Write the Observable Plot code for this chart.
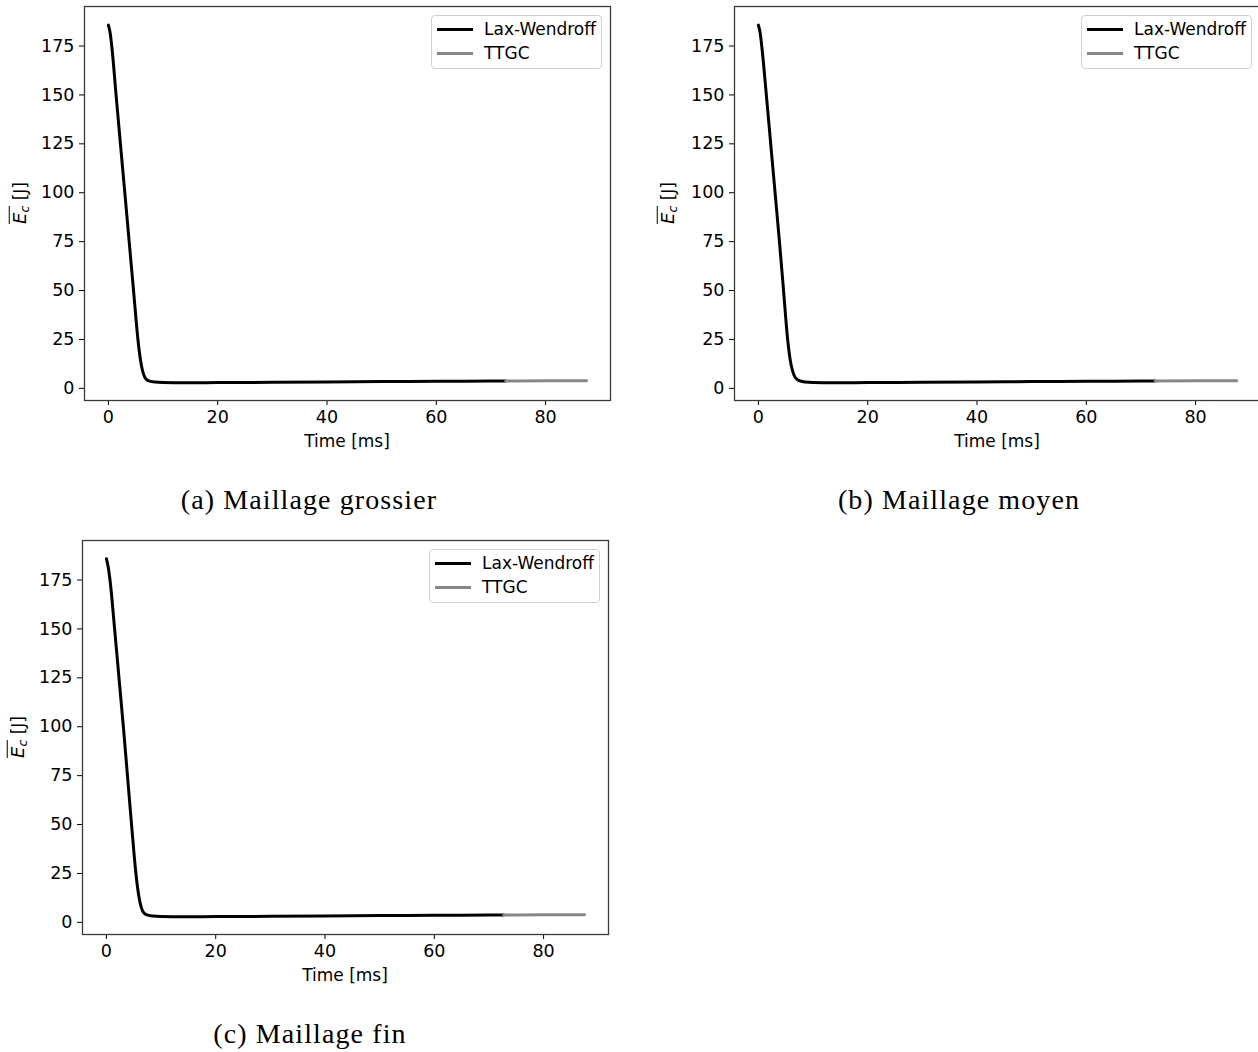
<!DOCTYPE html>
<html>
<head>
<meta charset="utf-8">
<script src="https://cdn.jsdelivr.net/npm/d3@7"></script>
<script src="https://cdn.jsdelivr.net/npm/@observablehq/plot@0.6"></script>
<style>
  html, body { margin: 0; padding: 0; background: #fff; }
  #page { position: relative; width: 1258px; height: 1052px; overflow: hidden; background: #fff; font-family: "DejaVu Sans", sans-serif; }
  .panel { position: absolute; width: 640px; height: 470px; }
  .panel svg { max-width: none !important; display: block; }
  .lbl { position: absolute; white-space: nowrap; line-height: 1; font-size: 17px; color: #000; transform: translate(-50%, -50%); }
  .ylbl { transform: translate(-50%, -50%) rotate(-90deg); }
  .ovl { display: inline-block; border-top: 1.7px solid #000; padding-top: 1px; line-height: 1; }
  .ovl i { font-style: oblique; font-size: 18px; }
  .ovl sub { font-size: 12.5px; font-style: oblique; vertical-align: -3px; }
  .cap { position: absolute; white-space: nowrap; line-height: 1; font-family: "Liberation Serif", "DejaVu Serif", serif; font-size: 28px; letter-spacing: 1.1px; transform: translate(-50%, -50%); color: #000; }
  .legend { position: absolute; width: 171px; height: 54px; box-sizing: border-box; border: 1px solid #d0d0d0; border-radius: 4px; background: rgba(255,255,255,0.85); }
  .legend .sw { position: absolute; left: 5px; width: 36px; height: 0; border-top: 3px solid #000; }
  .legend .tx { position: absolute; left: 52px; font-size: 17px; line-height: 1; transform: translateY(-50%); white-space: nowrap; }
</style>
</head>
<body>
<div id="page"></div>
<script>
// ---------- data ----------
const seriesNames = ["Lax-Wendroff", "TTGC"];
const seriesColors = ["#000000", "#878787"];
const captions = ["(a) Maillage grossier", "(b) Maillage moyen", "(c) Maillage fin"];
const xTicks = [0, 20, 40, 60, 80];
const yTicks = [0, 25, 50, 75, 100, 125, 150, 175];
const xLabel = "Time [ms]";

// Panel (a) - Maillage grossier
const lwTimeA   = [0, 0.3, 0.65, 1.4, 2.2, 3.0, 3.8, 4.6, 5.4, 5.9, 6.25, 6.6, 7.0, 7.6, 8.5, 10, 12, 15, 20, 30, 40, 50, 60, 70, 72.7];
const lwEnergyA = [185.7, 182, 174, 150, 125, 100, 75, 50, 25, 14, 9, 6, 4.5, 3.7, 3.2, 2.95, 2.9, 2.9, 2.95, 3.1, 3.3, 3.45, 3.6, 3.75, 3.8];
const ttgcTimeA   = [72.7, 80, 87.5];
const ttgcEnergyA = [3.8, 3.85, 3.9];

// Panel (b) - Maillage moyen
const lwTimeB   = [0, 0.3, 0.65, 1.45, 2.25, 3.05, 3.85, 4.6, 5.35, 5.85, 6.2, 6.6, 7.0, 7.6, 8.6, 10, 12, 15, 20, 30, 40, 50, 60, 70, 72.6];
const lwEnergyB = [185.7, 182, 174, 150, 125, 100, 75, 50, 25, 14, 9.5, 6.3, 4.8, 3.8, 3.2, 2.95, 2.9, 2.9, 2.95, 3.1, 3.3, 3.45, 3.6, 3.75, 3.8];
const ttgcTimeB   = [72.6, 80, 87.5];
const ttgcEnergyB = [3.8, 3.85, 3.9];

// Panel (c) - Maillage fin
const lwTimeC   = [0, 0.3, 0.7, 1.5, 2.3, 3.1, 3.85, 4.6, 5.4, 5.9, 6.25, 6.6, 7.0, 7.6, 8.5, 10, 12, 15, 20, 30, 40, 50, 60, 70, 72.7];
const lwEnergyC = [185.9, 182, 174, 150, 125, 100, 75, 50, 25, 14, 9, 6, 4.5, 3.7, 3.2, 2.95, 2.9, 2.9, 2.95, 3.1, 3.3, 3.45, 3.6, 3.75, 3.8];
const ttgcTimeC   = [72.7, 80, 87.5];
const ttgcEnergyC = [3.8, 3.85, 3.9];

// ---------- layout ----------
const panels = [
  {left: 0,   top: 0,   lwT: lwTimeA, lwE: lwEnergyA, tT: ttgcTimeA, tE: ttgcEnergyA, cap: captions[0], capX: 309, capY: 500, ylX: 20,  legX: 431,  legY: 15},
  {left: 650, top: 0,   lwT: lwTimeB, lwE: lwEnergyB, tT: ttgcTimeB, tE: ttgcEnergyB, cap: captions[1], capX: 959, capY: 500, ylX: 668, legX: 1081, legY: 15},
  {left: -2,  top: 534, lwT: lwTimeC, lwE: lwEnergyC, tT: ttgcTimeC, tE: ttgcEnergyC, cap: captions[2], capX: 310, capY: 1034, ylX: 18, legX: 429,  legY: 549}
];

const W = 640, H = 470, mL = 84, mT = 6, mR = 30, mB = 70;
const page = document.getElementById("page");

function toRows(ts, es) { return ts.map((t, i) => ({t, e: es[i]})); }

for (const p of panels) {
  const lw = toRows(p.lwT, p.lwE);
  const tt = toRows(p.tT, p.tE);
  const chart = Plot.plot({
    width: W, height: H,
    marginLeft: mL, marginTop: mT, marginRight: mR, marginBottom: mB,
    style: {fontFamily: "DejaVu Sans", fontSize: "17.5px", color: "#000", background: "transparent", overflow: "visible"},
    x: {domain: [-4.375, 91.875], ticks: xTicks, tickSize: 5, tickPadding: 5, label: null},
    y: {domain: [-6.2, 195.2], ticks: yTicks, tickSize: 5, tickPadding: 5, label: null},
    marks: [
      Plot.line(lw, {x: "t", y: "e", stroke: seriesColors[0], strokeWidth: 3, curve: "monotone-x"}),
      Plot.line(tt, {x: "t", y: "e", stroke: seriesColors[1], strokeWidth: 3, curve: "monotone-x"}),
      Plot.frame({stroke: "#3a3a3a", strokeWidth: 1.3})
    ]
  });
  const div = document.createElement("div");
  div.className = "panel";
  div.style.left = p.left + "px";
  div.style.top = p.top + "px";
  div.appendChild(chart);
  page.appendChild(div);

  // x label
  const xl = document.createElement("div");
  xl.className = "lbl";
  xl.textContent = xLabel;
  xl.style.left = (p.left + (mL + W - mR) / 2) + "px";
  xl.style.top = (p.top + 441) + "px";
  page.appendChild(xl);

  // y label
  const yl = document.createElement("div");
  yl.className = "lbl ylbl";
  yl.innerHTML = '<span class="ovl"><i>E</i><sub>c</sub></span> [J]';
  yl.style.left = p.ylX + "px";
  yl.style.top = (p.top + 203) + "px";
  page.appendChild(yl);

  // caption
  const cp = document.createElement("div");
  cp.className = "cap";
  cp.textContent = p.cap;
  cp.style.left = p.capX + "px";
  cp.style.top = p.capY + "px";
  page.appendChild(cp);

  // legend
  const lg = document.createElement("div");
  lg.className = "legend";
  lg.style.left = p.legX + "px";
  lg.style.top = p.legY + "px";
  seriesNames.forEach((name, i) => {
    const sw = document.createElement("div");
    sw.className = "sw";
    sw.style.top = (13 + i * 24 - 1.5) + "px";
    sw.style.borderTopColor = seriesColors[i];
    lg.appendChild(sw);
    const tx = document.createElement("div");
    tx.className = "tx";
    tx.style.top = (13 + i * 24) + "px";
    tx.textContent = name;
    lg.appendChild(tx);
  });
  page.appendChild(lg);
}
</script>
</body>
</html>
